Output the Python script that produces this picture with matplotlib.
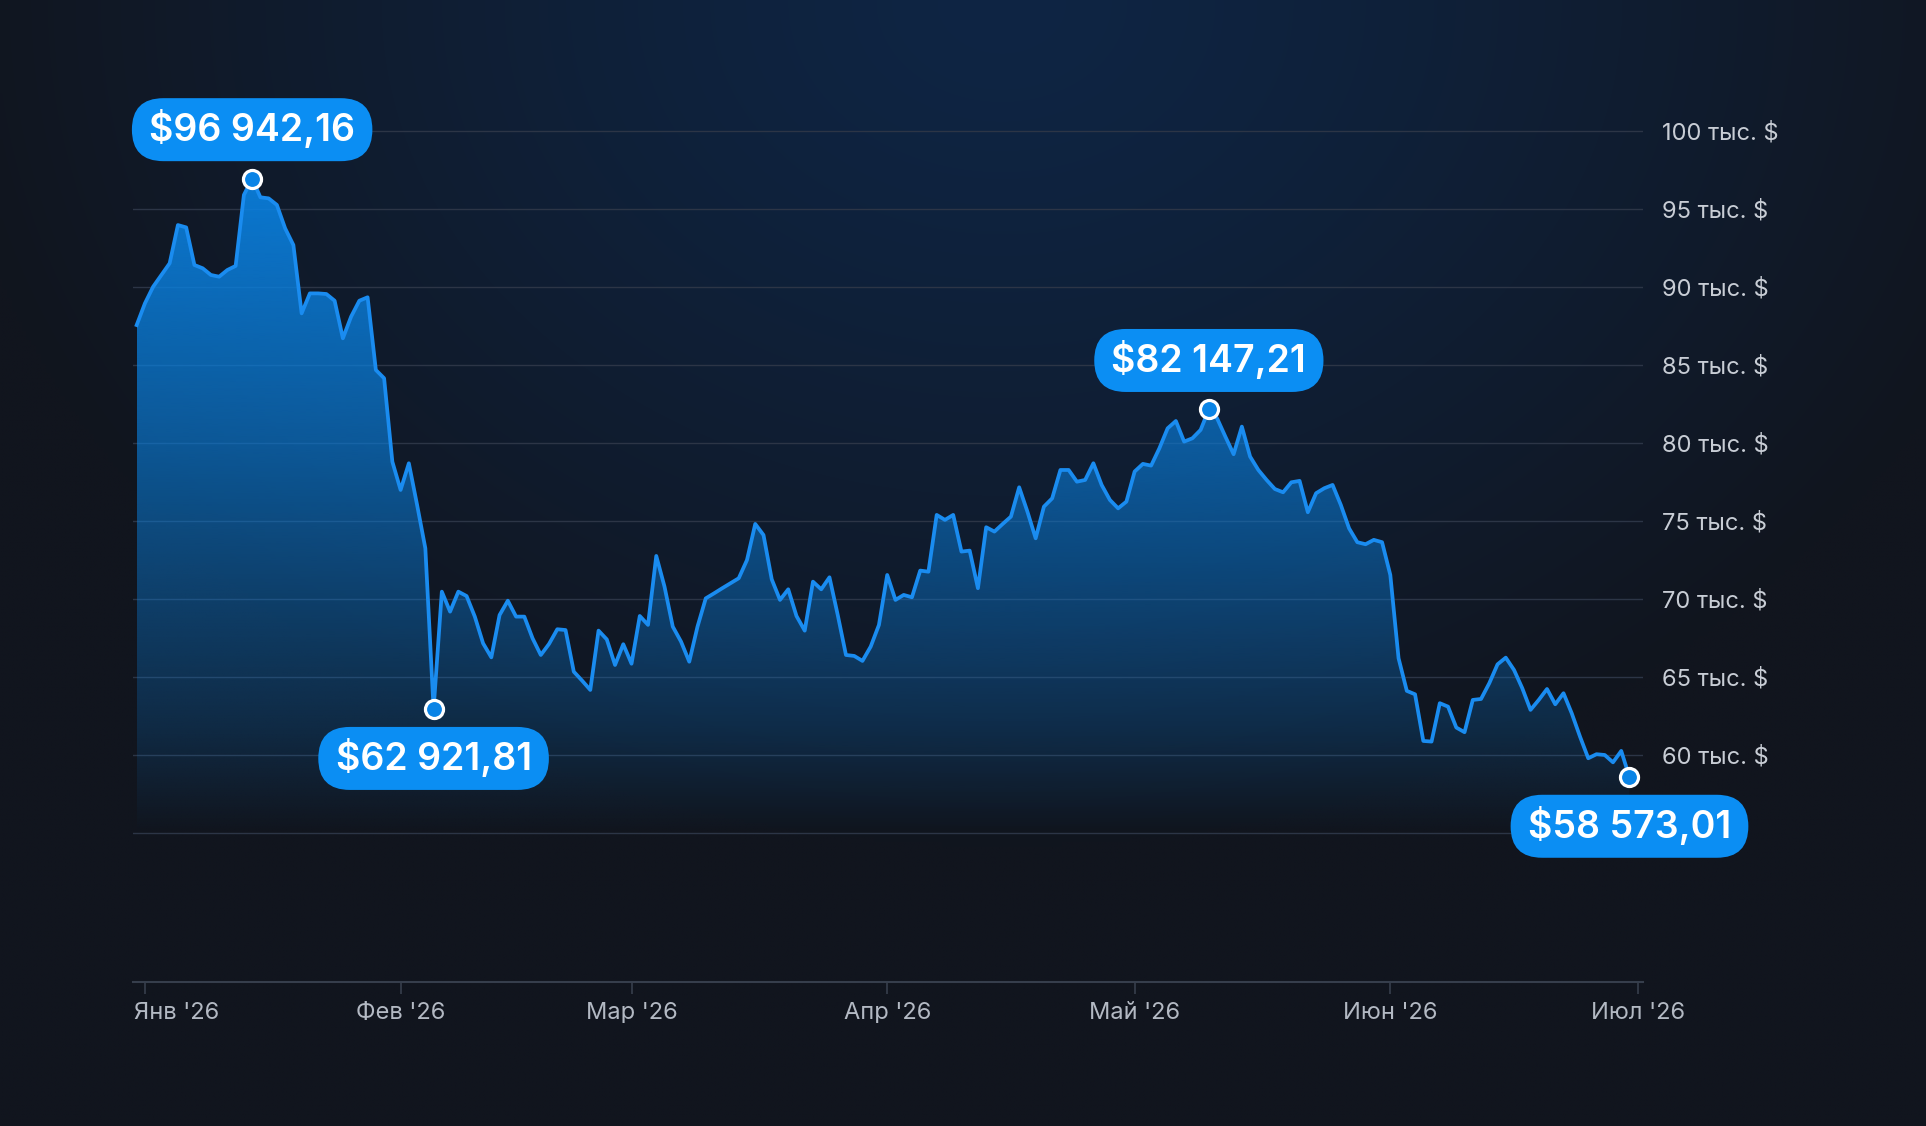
import numpy as np
import pandas as pd
import matplotlib
matplotlib.use("Agg")
import matplotlib.pyplot as plt
import matplotlib.dates as mdates
from matplotlib.patches import BoxStyle, PathPatch
from matplotlib.colors import to_rgb
from matplotlib.transforms import ScaledTranslation

plt.rcParams['font.family'] = ['Inter', 'DejaVu Sans']

# daily close, thousands of $
dates = pd.date_range('2025-12-31', '2026-06-30', freq='D')
prices_k = [
    87.56, 88.95, 90.02, 90.77, 91.52, 93.97, 93.82, 91.41, 91.20, 90.77,
    90.66, 91.09, 91.35, 95.90, 96.94216, 95.75, 95.68, 95.26, 93.76, 92.69,
    88.31, 89.59, 89.59, 89.55, 89.12, 86.71, 88.10, 89.12, 89.34, 84.68,
    84.15, 78.80, 76.99, 78.70, 76.03, 73.25, 62.92181, 70.47, 69.19, 70.47,
    70.19, 68.87, 67.16, 66.26, 68.97, 69.89, 68.87, 68.87, 67.48, 66.41,
    67.12, 68.06, 68.01, 65.34, 64.77, 64.17, 67.97, 67.41, 65.77, 67.10,
    65.85, 68.91, 68.34, 72.76, 70.79, 68.23, 67.27, 65.98, 68.23, 70.04,
    70.36, 70.69, 71.01, 71.33, 72.50, 74.81, 74.10, 71.26, 69.94, 70.62,
    68.91, 67.97, 71.11, 70.62, 71.39, 68.98, 66.41, 66.35, 66.03, 66.95,
    68.34, 71.54, 69.94, 70.26, 70.11, 71.82, 71.75, 75.39, 75.07, 75.39,
    73.04, 73.10, 70.69, 74.60, 74.32, 74.81, 75.28, 77.16, 75.60, 73.89,
    75.92, 76.45, 78.27, 78.27, 77.52, 77.63, 78.70, 77.31, 76.35, 75.81,
    76.24, 78.17, 78.66, 78.55, 79.66, 80.94, 81.41, 80.09, 80.30, 80.84,
    82.14721, 81.58, 80.41, 79.28, 81.05, 79.13, 78.27, 77.63, 77.05, 76.84,
    77.48, 77.57, 75.56, 76.78, 77.10, 77.31, 76.03, 74.53, 73.64, 73.51,
    73.79, 73.64, 71.54, 66.20, 64.11, 63.89, 60.90, 60.86, 63.32, 63.10,
    61.76, 61.46, 63.53, 63.59, 64.60, 65.81, 66.24, 65.45, 64.28, 62.89,
    63.53, 64.23, 63.25, 63.96, 62.67, 61.18, 59.79, 60.05, 60.00, 59.53,
    60.26, 58.57301,
]
prices = np.array(prices_k) * 1000

# highlighted points: index, label above (+1) or below (-1)
hl_index = [14, 36, 130, 181]
hl_side = [1, -1, 1, -1]

y_ticks = list(range(55000, 100001, 5000))
y_labels = ['' if v == 55000 else f'{v // 1000} тыс. $' for v in y_ticks]
month_ticks = pd.date_range('2026-01-01', '2026-07-01', freq='MS')
month_labels = ["Янв '26", "Фев '26", "Мар '26", "Апр '26", "Май '26", "Июн '26", "Июл '26"]

LINE = '#1a8cf0'
FILL = '#0a84e6'
PILL = '#0b8ef3'


def money(v):
    s = f'{v:,.2f}'.replace(',', ' ').replace('.', ',')
    return '$' + s


def pill(x0, y0, width, height, mutation_size):
    padx = 0.46 * mutation_size
    pady = 0.32 * mutation_size
    h = height + 2 * pady
    return BoxStyle.Round(pad=0, rounding_size=h / 2 / mutation_size)(
        x0 - padx, y0 - pady, width + 2 * padx, h, mutation_size)


W, H = 1926, 1126
fig = plt.figure(figsize=(W / 100, H / 100), dpi=100)

# background glow
bg_ax = fig.add_axes([0, 0, 1, 1], zorder=-10)
gy, gx = np.mgrid[0:1:240j, 0:1:400j]
d = np.sqrt(((gx - 0.52) / 0.55) ** 2 + ((gy - 0.0) / 0.75) ** 2)
t = np.clip(d, 0, 1) ** 1.3
c_top = np.array(to_rgb('#0e2544'))
c_edge = np.array(to_rgb('#11151e'))
bg = c_top[None, None, :] * (1 - t[..., None]) + c_edge[None, None, :] * t[..., None]
bg_ax.imshow(bg, extent=[0, 1, 0, 1], aspect='auto', interpolation='bilinear')
bg_ax.axis('off')

ax = fig.add_axes([0.0690, 0.1282, 0.7839, 0.8185])
ax.set_facecolor('none')

ymin, ymax = 45470, 104550
x0 = dates[0] - pd.Timedelta(hours=11)
x1 = dates[0] + pd.Timedelta(days=182.6)

ax.plot(dates, prices, color=LINE, lw=2.7, solid_joinstyle='round', zorder=4)

# gradient fill under the line
poly = ax.fill_between(dates, prices, ymin, color='none', lw=0)
clip = PathPatch(poly.get_paths()[0], transform=ax.transData, fc='none', ec='none')
ax.add_patch(clip)
vals = np.linspace(ymin, ymax, 400)
alpha = np.interp(vals, [55000, 62000, 70000, 80000, 97000], [0.0, 0.2, 0.38, 0.6, 0.9])
grad = np.zeros((len(vals), 1, 4))
grad[:, 0, :3] = to_rgb(FILL)
grad[:, 0, 3] = alpha
xn0, xn1 = mdates.date2num(dates[0]), mdates.date2num(dates[-1])
im = ax.imshow(grad, extent=[xn0, xn1, ymin, ymax], origin='lower', aspect='auto',
               interpolation='bilinear', zorder=2)
im.set_clip_path(clip)
ax.set_xlim(x0, x1)
ax.set_ylim(ymin, ymax)

# grid + axes styling
ax.set_yticks(y_ticks)
ax.set_yticklabels(y_labels)
ax.yaxis.tick_right()
ax.grid(axis='y', color='#2c3546', lw=1.0, zorder=1)
ax.tick_params(axis='y', length=0, pad=14, labelsize=17, labelcolor='#c8cdd5')
ax.set_xticks(month_ticks)
ax.set_xticklabels(month_labels)
ax.tick_params(axis='x', length=8.5, width=1.1, color='#3a4250', pad=6,
               labelsize=17, labelcolor='#b3b9c3')
for s in ['top', 'left', 'right']:
    ax.spines[s].set_visible(False)
ax.spines['bottom'].set_color('#363e4c')
ax.spines['bottom'].set_linewidth(1.5)

first = ax.get_xticklabels()[0]
first.set_ha('left')
first.set_transform(first.get_transform() + ScaledTranslation(-11 / 100, 0, fig.dpi_scale_trans))

# highlighted points with pills
ax.plot(dates[hl_index], prices[hl_index], 'o', ms=13, mfc=FILL, mec='white',
        mew=2.3, zorder=6, clip_on=False)
for i, side in zip(hl_index, hl_side):
    ax.annotate(money(prices[i]), xy=(dates[i], prices[i]), xytext=(0, 35.3 * side),
                textcoords='offset points', ha='center', va='center',
                fontsize=27, fontweight='semibold', color='white', zorder=7,
                bbox=dict(boxstyle=pill, fc=PILL, ec='none'))

fig.savefig('out.png', dpi=100)
